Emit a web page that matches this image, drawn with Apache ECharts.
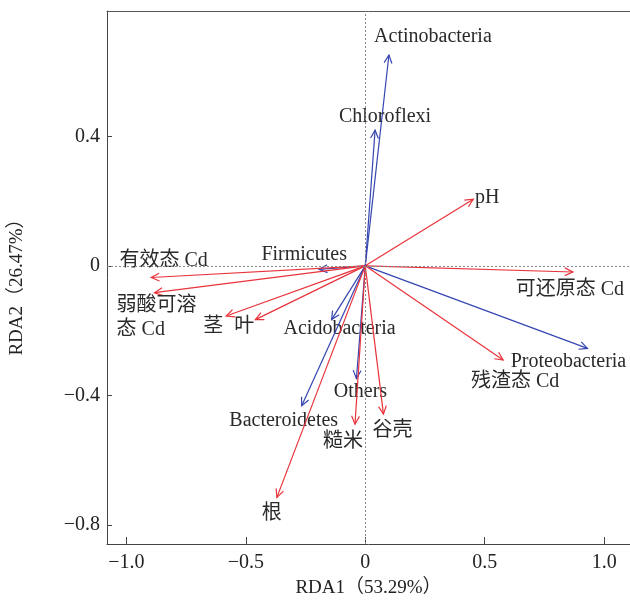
<!DOCTYPE html>
<html>
<head>
<meta charset="utf-8">
<script src="https://cdn.jsdelivr.net/npm/echarts@6/dist/echarts.min.js"></script>
<style>html,body{margin:0;padding:0;background:#fff;}#c{width:630px;height:604px;}</style>
</head>
<body>
<div id="c"></div>
<script>
// ---- data ----
const arrowNames = ['Actinobacteria','Chloroflexi','pH','可还原态 Cd','Firmicutes','有效态 Cd','弱酸可溶\n态 Cd','茎','叶','Acidobacteria','Others','Bacteroidetes','糙米','谷壳','根','Proteobacteria','残渣态 Cd'];
const rda1 = [0.099, 0.041, 0.452, 0.869, -0.193, -0.896, -0.882, -0.582, -0.460, -0.141, -0.037, -0.266, -0.043, 0.076, -0.370, 0.930, 0.577];
const rda2 = [0.651, 0.419, 0.206, -0.019, -0.011, -0.036, -0.083, -0.155, -0.166, -0.166, -0.348, -0.432, -0.489, -0.458, -0.715, -0.255, -0.291];
const arrowGroup = ['taxa','taxa','env','env','taxa','env','env','env','env','taxa','taxa','taxa','env','env','env','taxa','env'];
const xTicks = [-1.0, -0.5, 0, 0.5, 1.0];
const yTicks = [-0.8, -0.4, 0, 0.4];
const xTitle = 'RDA1（53.29%）';
const yTitle = 'RDA2（26.47%）';

// ---- layout (label offsets in px from arrow tip) ----
const labelOffsets = [[44,-18],[10,-13],[14,-1],[-3,18],[-15,-15],[12.5,-17],[-38,25],[-13,11],[-11,7],[8,9],[4,13],[-18,15],[-12,18],[9,17],[-5,16],[-19,13],[12,22]];
const labelAlign = ['center','center','center','center','center','center','left','center','center','center','center','center','center','center','center','center','center'];
const colors = {taxa:'#3546b0', env:'#e8333b'};
const FONT = '"Liberation Serif","Noto Sans CJK SC",serif';

const data = rda1.map((x,i)=>[x, rda2[i], i]);
const fmt = v => {
  if (Math.abs(v) < 1e-9) return '0';
  const s = Math.abs(v).toFixed(1);
  return (v < 0 ? '\u2212' : '') + s;
};

const chart = echarts.init(document.getElementById('c'), null, {renderer:'canvas'});
chart.setOption({
  animation:false,
  backgroundColor:'#fff',
  grid:{left:106, right:0, top:11, bottom:60},
  xAxis:[{
    type:'value', min:-1.081, max:1.108,
    axisLine:{show:true, onZero:false, lineStyle:{color:'#444', width:1}},
    axisTick:{show:true, inside:true, length:7, customValues:xTicks, lineStyle:{color:'#444'}},
    axisLabel:{customValues:xTicks, formatter:fmt, fontFamily:FONT, fontSize:20, color:'#222', margin:9},
    splitLine:{show:false},
    name:xTitle, nameLocation:'middle', nameGap:35,
    nameTextStyle:{fontFamily:FONT, fontSize:19, color:'#222'}
  },{
    type:'value', position:'top', min:-1.081, max:1.108,
    axisLine:{show:true, onZero:false, lineStyle:{color:'#555', width:1}},
    axisTick:{show:false}, axisLabel:{show:false}, splitLine:{show:false}
  }],
  yAxis:{
    type:'value', min:-0.859, max:0.787,
    axisLine:{show:true, onZero:false, lineStyle:{color:'#444', width:1}},
    axisTick:{show:true, inside:true, length:5, customValues:yTicks, lineStyle:{color:'#444'}},
    axisLabel:{customValues:yTicks, formatter:fmt, fontFamily:FONT, fontSize:20, color:'#222', margin:7},
    splitLine:{show:false},
    name:yTitle, nameLocation:'middle', nameGap:80,
    nameTextStyle:{fontFamily:FONT, fontSize:19, color:'#222', padding:[0,10,0,0]}
  },
  series:[{
    type:'scatter', data:[], silent:true,
    markLine:{silent:true, symbol:'none', label:{show:false},
      lineStyle:{type:[2,2], color:'#888', width:1},
      data:[{xAxis:0},{yAxis:0}]}
  },{
    type:'custom', clip:false, silent:true,
    data:data,
    renderItem:function(params, api){
      const i = api.value(2);
      const p0 = api.coord([0,0]);
      const p1 = api.coord([api.value(0), api.value(1)]);
      const col = colors[arrowGroup[i]];
      const ang = Math.atan2(p1[1]-p0[1], p1[0]-p0[0]);
      const hl = 9, ha = Math.PI/7;
      const h1 = [p1[0]-hl*Math.cos(ang-ha), p1[1]-hl*Math.sin(ang-ha)];
      const h2 = [p1[0]-hl*Math.cos(ang+ha), p1[1]-hl*Math.sin(ang+ha)];
      const off = labelOffsets[i];
      return {type:'group', children:[
        {type:'line', shape:{x1:p0[0], y1:p0[1], x2:p1[0], y2:p1[1]}, style:{stroke:col, lineWidth:1.2}},
        {type:'polyline', shape:{points:[h1, p1, h2]}, style:{stroke:col, lineWidth:1.2, fill:null}},
        {type:'text', x:p1[0]+off[0], y:p1[1]+off[1], style:{
          text:arrowNames[i], align:labelAlign[i], verticalAlign:'middle',
          font:'20px '+FONT, fill:'#2a2a2a', lineHeight:24}}
      ]};
    }
  }]
});
</script>
</body>
</html>
